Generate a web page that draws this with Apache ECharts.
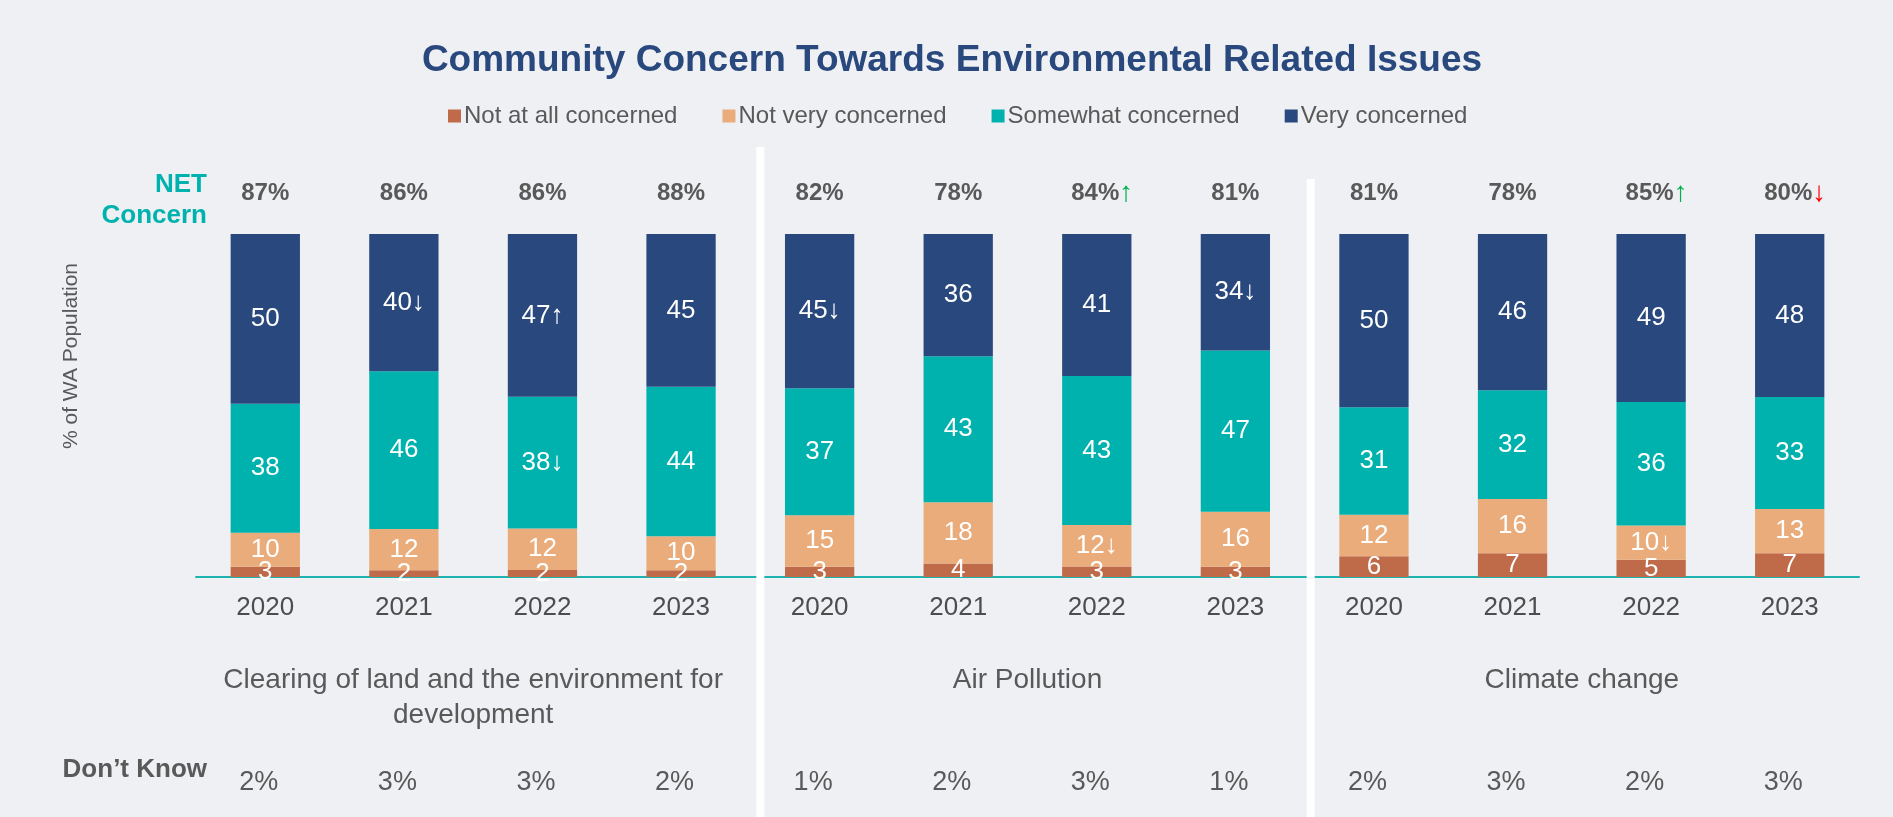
<!DOCTYPE html>
<html>
<head>
<meta charset="utf-8">
<title>Community Concern Towards Environmental Related Issues</title>
<script src="https://cdn.jsdelivr.net/npm/echarts@6.0.0/dist/echarts.min.js"></script>
<style>
    html, body { margin: 0; padding: 0; background: #EEF0F4; }
    #chart { width: 1893px; height: 817px; }
</style>
</head>
<body>
<div id="chart"></div>
<script>
var years = ['2020', '2021', '2022', '2023'];
var issues = ['Clearing of land and the environment for\ndevelopment', 'Air Pollution', 'Climate change'];

// one value per bar, 4 years x 3 issues
var notAtAll = [3, 2, 2, 2, 3, 4, 3, 3, 6, 7, 5, 7];
var notVery = [10, 12, 12, 10, 15, 18, 12, 16, 12, 16, 10, 13];
var somewhat = [38, 46, 38, 44, 37, 43, 43, 47, 31, 32, 36, 33];
var very = [50, 40, 47, 45, 45, 36, 41, 34, 50, 46, 49, 48];
var netConcern = [87, 86, 86, 88, 82, 78, 84, 81, 81, 78, 85, 80];
var dontKnow = [2, 3, 3, 2, 1, 2, 3, 1, 2, 3, 2, 3];

// significant change markers
var notAtAllChange = ['', '', '', '', '', '', '', '', '', '', '', ''];
var notVeryChange = ['', '', '', '', '', '', 'down', '', '', '', 'down', ''];
var somewhatChange = ['', '', 'down', '', '', '', '', '', '', '', '', ''];
var veryChange = ['', 'down', 'up', '', 'down', '', '', 'down', '', '', '', ''];
var netChange = ['', '', '', '', '', '', 'up', '', '', '', 'up', 'down'];

var FONT = "'Liberation Sans', Arial, sans-serif";
var GREY = '#595959';

var categories = [];
issues.forEach(function () {
    years.forEach(function (y) { categories.push(y); });
});

function total(i) {
    return notAtAll[i] + notVery[i] + somewhat[i] + very[i];
}

function arrow(c) {
    if (c === 'up') return '\u2191';
    if (c === 'down') return '\u2193';
    return '';
}

function makeSeries(name, values, changes, color) {
    return {
        name: name,
        type: 'bar',
        stack: 'all',
        barWidth: '50%',
        itemStyle: {color: color},
        label: {
            show: true,
            position: 'inside',
            color: '#fff',
            fontSize: 26,
            fontFamily: FONT,
            formatter: function (p) {
                return values[p.dataIndex] + arrow(changes[p.dataIndex]);
            }
        },
        // 100% stacked, like the original chart
        data: values.map(function (v, i) { return v / total(i) * 100; })
    };
}

var myChart = echarts.init(document.getElementById('chart'));
var option = {
    backgroundColor: '#EEF0F4',
    animation: false,
    textStyle: {fontFamily: FONT},
    title: {
        text: 'Community Concern Towards Environmental Related Issues',
        left: 952,
        textAlign: 'center',
        top: 42,
        padding: 0,
        textStyle: {color: '#29487D', fontSize: 37, fontWeight: 'bold', fontFamily: FONT}
    },
    legend: {
        left: 448,
        top: 104,
        padding: 0,
        icon: 'rect',
        itemWidth: 13,
        itemHeight: 13,
        itemGap: 45,
        selectedMode: false,
        textStyle: {color: GREY, fontSize: 24, fontFamily: FONT, padding: [0, 0, 0, -2]},
        data: ['Not at all concerned', 'Not very concerned', 'Somewhat concerned', 'Very concerned']
    },
    grid: {left: 196, right: 34, top: 234, bottom: 240},
    xAxis: [
        {
            type: 'category',
            position: 'bottom',
            data: categories,
            axisLine: {lineStyle: {color: '#1DB3AE', width: 2}},
            axisTick: {show: false},
            axisLabel: {interval: 0, margin: 18, fontSize: 26, color: '#4D4D4D', fontFamily: FONT}
        },
        {
            type: 'category',
            position: 'top',
            data: netConcern.map(function (v) { return v + '%'; }),
            axisLine: {show: false},
            axisTick: {show: false},
            axisLabel: {
                interval: 0,
                margin: 27,
                formatter: function (v, i) {
                    var c = netChange[i];
                    if (c === 'up') return '{sp| }{v|' + v + '}{up|\u2191}';
                    if (c === 'down') return '{sp| }{v|' + v + '}{dn|\u2193}';
                    return '{v|' + v + '}';
                },
                rich: {
                    v: {fontSize: 24, fontWeight: 'bold', color: GREY, fontFamily: FONT, lineHeight: 28},
                    sp: {width: 11, fontSize: 24},
                    up: {fontSize: 28, color: '#00B050', fontFamily: FONT, lineHeight: 28},
                    dn: {fontSize: 28, color: '#FF0000', fontFamily: FONT, lineHeight: 28}
                }
            }
        },
        {
            type: 'category',
            position: 'bottom',
            data: issues,
            axisLine: {show: false},
            axisTick: {show: false},
            axisLabel: {interval: 0, margin: 86, fontSize: 28, lineHeight: 35, color: GREY, fontFamily: FONT}
        },
        {
            type: 'category',
            position: 'bottom',
            data: dontKnow.map(function (v) { return v + '%'; }),
            axisLine: {show: false},
            axisTick: {show: false},
            axisLabel: {interval: 0, margin: 192, fontSize: 27, color: GREY, fontFamily: FONT, padding: [0, 13, 0, 0]}
        }
    ],
    yAxis: {
        type: 'value',
        min: 0,
        max: 100,
        axisLine: {show: false},
        axisTick: {show: false},
        axisLabel: {show: false},
        splitLine: {show: false}
    },
    series: [
        makeSeries('Not at all concerned', notAtAll, notAtAllChange, '#BF6A48'),
        makeSeries('Not very concerned', notVery, notVeryChange, '#E9AC7A'),
        makeSeries('Somewhat concerned', somewhat, somewhatChange, '#00B2AE'),
        makeSeries('Very concerned', very, veryChange, '#29487D')
    ]
};
myChart.setOption(option);

// white dividers between the three issues
var x1 = (myChart.convertToPixel({xAxisIndex: 0}, 3) + myChart.convertToPixel({xAxisIndex: 0}, 4)) / 2 + 10;
var x2 = (myChart.convertToPixel({xAxisIndex: 0}, 7) + myChart.convertToPixel({xAxisIndex: 0}, 8)) / 2 + 6;

myChart.setOption({
    graphic: [
        {type: 'rect', z: 100, shape: {x: x1 - 4, y: 147, width: 8, height: 700}, style: {fill: '#fff'}},
        {type: 'rect', z: 100, shape: {x: x2 - 4, y: 179, width: 8, height: 700}, style: {fill: '#fff'}},
        {
            type: 'text', z: 100, x: 207, y: 200,
            style: {
                text: 'NET\nConcern', align: 'right', verticalAlign: 'middle', lineHeight: 31,
                fill: '#00B2AE', fontSize: 26, fontWeight: 'bold', fontFamily: FONT
            }
        },
        {
            type: 'text', z: 100, x: 207, y: 770,
            style: {
                text: 'Don\u2019t Know', align: 'right', verticalAlign: 'middle',
                fill: GREY, fontSize: 26, fontWeight: 'bold', fontFamily: FONT
            }
        },
        {
            type: 'text', z: 100, x: 71, y: 356, rotation: Math.PI / 2,
            style: {
                text: '% of WA Population', align: 'center', verticalAlign: 'middle',
                fill: GREY, fontSize: 21, fontFamily: FONT
            }
        }
    ]
});
</script>
</body>
</html>
